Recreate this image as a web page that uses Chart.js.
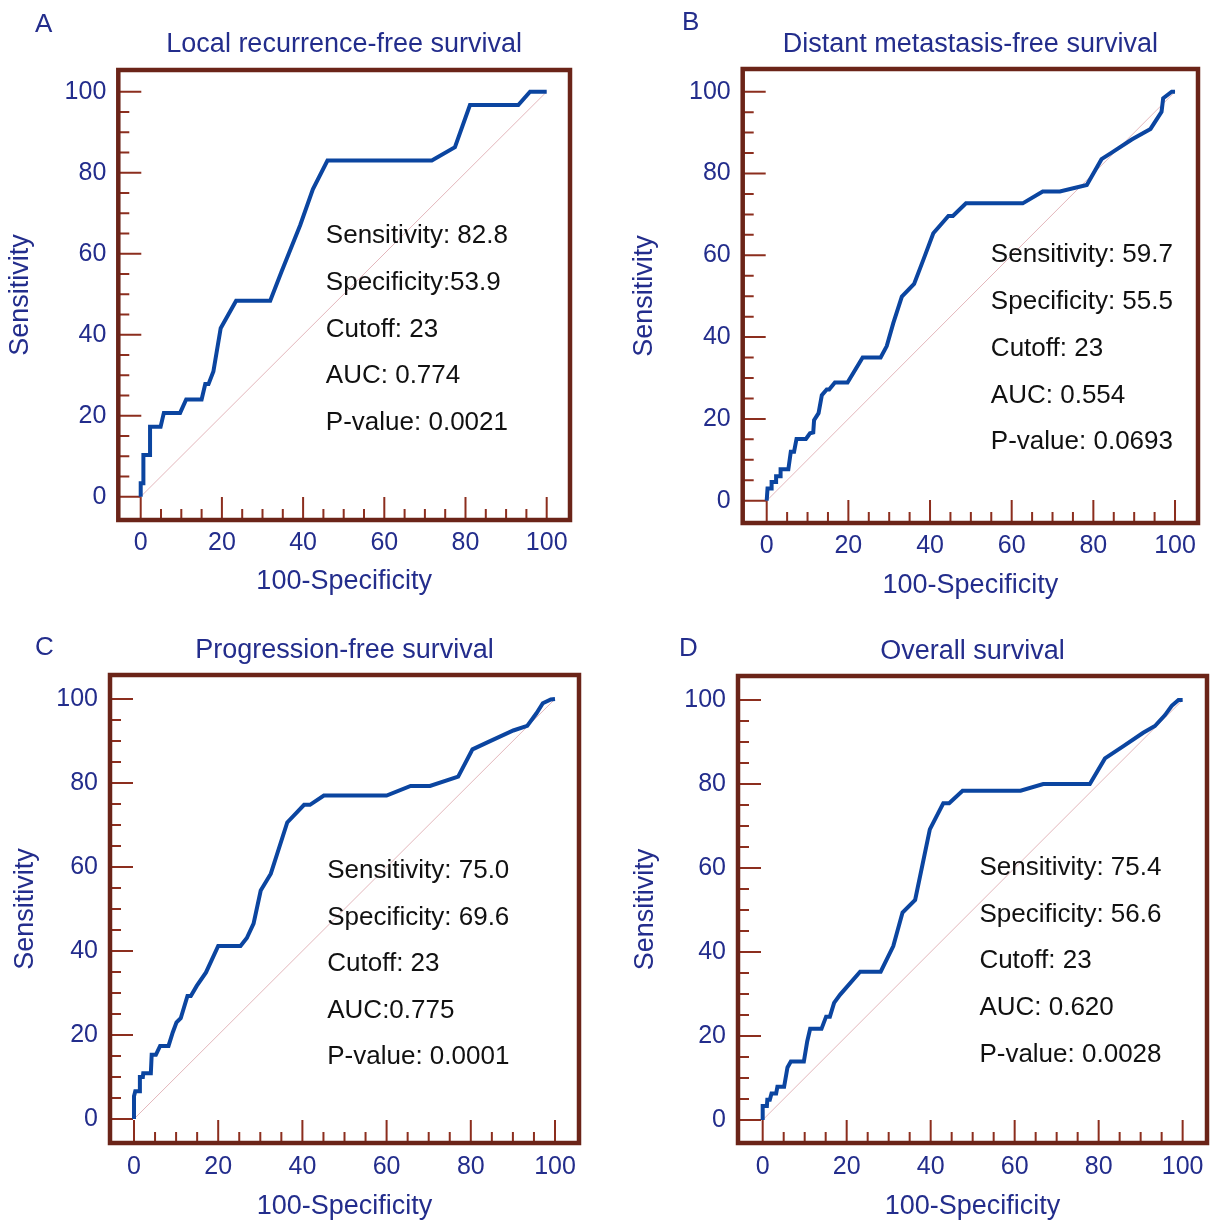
<!DOCTYPE html>
<html>
<head>
<meta charset="utf-8">
<title>Curvas ROC</title>
<script src="https://cdn.jsdelivr.net/npm/chart.js@4.4.0/dist/chart.umd.min.js"></script>
<style>
  body { margin: 0; background: #fff; }
  #pagina { position: relative; width: 1214px; height: 1223px; overflow: hidden; }
  canvas { position: absolute; }
  .letra { position: absolute; font-family: "Liberation Sans", Arial, sans-serif; font-size: 26px; line-height: 26px; color: #232d8c; }
</style>
</head>
<body>
<div id="pagina">
  <canvas id="graficaA" width="607" height="611" style="left:0px;top:0px"></canvas>
  <canvas id="graficaB" width="607" height="611" style="left:607px;top:0px"></canvas>
  <canvas id="graficaC" width="607" height="612" style="left:0px;top:611px"></canvas>
  <canvas id="graficaD" width="607" height="612" style="left:607px;top:611px"></canvas>
  <div class="letra" style="left:35px;top:10px">A</div>
  <div class="letra" style="left:682px;top:8px">B</div>
  <div class="letra" style="left:35px;top:633px">C</div>
  <div class="letra" style="left:679px;top:634px">D</div>
</div>
<script>
// datos
const ticksEje = [0, 20, 40, 60, 80, 100];
const diagonalX = [0, 100];
const diagonalY = [0, 100];

// A - local recurrence-free survival
const lrfsX = [0, 0, 0.66, 0.66, 2.3, 2.3, 4.9, 5.7, 9.7, 11.2, 15.0, 15.9, 16.7, 17.9, 19.7, 23.5, 31.9, 34.7, 39.3, 42.4, 46.0, 71.7, 77.4, 81.1, 93.0, 95.9, 100];
const lrfsY = [0, 3.3, 3.3, 10.3, 10.3, 17.3, 17.3, 20.7, 20.7, 24.0, 24.0, 27.8, 27.8, 30.9, 41.6, 48.4, 48.4, 55.6, 67.1, 75.9, 83.0, 83.0, 86.3, 96.7, 96.7, 100, 100];
const textosA = ["Sensitivity: 82.8", "Specificity:53.9", "Cutoff: 23", "AUC: 0.774", "P-value: 0.0021"];

// B - distant metastasis-free survival
const dmfsX = [0, 0.2, 1.2, 1.2, 2.3, 2.3, 3.4, 3.4, 5.3, 5.9, 6.7, 7.3, 9.6, 10.6, 11.4, 11.6, 12.7, 13.5, 14.7, 15.3, 16.7, 19.8, 23.5, 27.9, 29.4, 31.0, 33.1, 36.1, 38.4, 40.8, 44.5, 45.6, 48.8, 62.7, 67.6, 71.8, 78.4, 82.0, 84.5, 89.4, 94.0, 96.7, 97.1, 99.2, 100];
const dmfsY = [0, 3.0, 3.0, 4.6, 4.6, 6.0, 6.0, 7.7, 7.7, 12.0, 12.0, 15.1, 15.1, 16.5, 16.7, 19.7, 21.4, 25.8, 27.2, 27.2, 28.9, 28.9, 35.0, 35.0, 37.8, 43.4, 49.9, 53.0, 59.0, 65.4, 69.6, 69.6, 72.7, 72.7, 75.6, 75.6, 77.2, 83.5, 85.1, 88.3, 90.9, 95.1, 98.4, 100, 100];
const textosB = ["Sensitivity: 59.7", "Specificity: 55.5", "Cutoff: 23", "AUC: 0.554", "P-value: 0.0693"];

// C - progression-free survival
const pfsX = [0, 0, 0.3, 1.3, 1.4, 2.1, 2.2, 4.0, 4.2, 5.2, 6.2, 8.2, 9.2, 10.1, 11.1, 12.7, 13.5, 14.9, 17.1, 20.0, 25.3, 26.8, 28.4, 30.1, 32.5, 36.4, 40.4, 41.8, 45.1, 60.0, 65.7, 70.3, 77.0, 80.4, 84.2, 90.1, 93.4, 95.6, 97.1, 99.0, 100];
const pfsY = [0, 5.4, 6.6, 6.6, 10.0, 10.0, 10.9, 10.9, 15.3, 15.3, 17.4, 17.4, 20.6, 23.0, 24.0, 29.3, 29.3, 31.7, 34.9, 41.2, 41.2, 43.1, 46.5, 54.4, 58.4, 70.6, 74.8, 74.8, 77.0, 77.0, 79.3, 79.3, 81.5, 88.0, 89.8, 92.5, 93.6, 96.6, 99.0, 99.9, 100];
const textosC = ["Sensitivity: 75.0", "Specificity: 69.6", "Cutoff: 23", "AUC:0.775", "P-value: 0.0001"];

// D - overall survival
const osX = [0, 0, 1.0, 1.1, 1.7, 2.1, 3.2, 3.5, 5.1, 5.9, 6.7, 9.8, 10.6, 11.3, 14.0, 15.1, 16.0, 17.0, 18.4, 23.2, 28.1, 31.1, 33.3, 36.3, 39.8, 43.0, 44.4, 47.6, 61.4, 66.8, 77.9, 81.5, 85.9, 90.6, 93.4, 95.8, 97.4, 99.0, 100];
const osY = [0, 3.3, 3.3, 4.8, 4.8, 6.3, 6.3, 7.9, 7.9, 12.5, 13.9, 13.9, 18.7, 21.7, 21.7, 24.6, 24.6, 27.9, 29.8, 35.3, 35.3, 41.4, 49.4, 52.4, 69.2, 75.4, 75.4, 78.4, 78.4, 80.0, 80.0, 86.1, 89.0, 92.2, 93.8, 96.4, 98.6, 100, 100];
const textosD = ["Sensitivity: 75.4", "Specificity: 56.6", "Cutoff: 23", "AUC: 0.620", "P-value: 0.0028"];

const fuente = '"Liberation Sans", Arial, sans-serif';
const azulTexto = "#232d8c";
const azulCurva = "#0b45a0";
const colorMarco = "#6b2418";
const colorTicks = "#8c2e1e";
const altoLinea = 27 * 1.2;

const paneles = [
  { id: "graficaA", titulo: "Local recurrence-free survival", x: lrfsX, y: lrfsY, textos: textosA,
    caja: { left: 118.3, top: 70, right: 570, bottom: 520 }, rx: [-5.52, 105.74], ry: [-5.75, 105.36],
    tituloY: 45, ejeYx: 20.5, tickXy: 543, tituloXy: 582, texto: { x: 45.6, y: 64.4, paso: 11.55 } },
  { id: "graficaB", titulo: "Distant metastasis-free survival", x: dmfsX, y: dmfsY, textos: textosB,
    caja: { left: 135.7, top: 69, right: 591, bottom: 523 }, rx: [-5.88, 105.63], ry: [-5.45, 105.55],
    tituloY: 45, ejeYx: 38, tickXy: 546, tituloXy: 586, texto: { x: 54.9, y: 60.1, paso: 11.45 } },
  { id: "graficaC", titulo: "Progression-free survival", x: pfsX, y: pfsY, textos: textosC,
    caja: { left: 110, top: 64, right: 579, bottom: 532 }, rx: [-5.7, 105.7], ry: [-5.71, 105.71],
    tituloY: 40, ejeYx: 26, tickXy: 556, tituloXy: 596, texto: { x: 45.9, y: 59.0, paso: 11.05 } },
  { id: "graficaD", titulo: "Overall survival", x: osX, y: osY, textos: textosD,
    caja: { left: 131, top: 65, right: 600, bottom: 532 }, rx: [-5.88, 105.8], ry: [-5.48, 105.71],
    tituloY: 41, ejeYx: 39, tickXy: 556, tituloXy: 596, texto: { x: 51.6, y: 60.0, paso: 11.1 } },
];

// marco, ticks internos y textos del panel
const marco = {
  id: "marco",
  beforeDatasetsDraw(chart) {
    const { ctx, chartArea, scales } = chart;
    ctx.save();
    ctx.strokeStyle = colorTicks;
    ctx.lineWidth = 2;
    ctx.beginPath();
    for (let v = 0; v <= 100; v += 5) {
      const largo = v % 20 === 0 ? 23 : 11;
      const px = scales.x.getPixelForValue(v);
      ctx.moveTo(px, chartArea.bottom);
      ctx.lineTo(px, chartArea.bottom - largo);
      const py = scales.y.getPixelForValue(v);
      ctx.moveTo(chartArea.left, py);
      ctx.lineTo(chartArea.left + largo, py);
    }
    ctx.stroke();
    ctx.restore();
  },
  afterDraw(chart) {
    const { ctx, chartArea, scales } = chart;
    const panel = chart.options.plugins.marco;
    ctx.save();
    ctx.strokeStyle = colorMarco;
    ctx.lineWidth = 4.5;
    ctx.strokeRect(chartArea.left, chartArea.top, chartArea.right - chartArea.left, chartArea.bottom - chartArea.top);
    ctx.fillStyle = "#111";
    ctx.font = "26px " + fuente;
    ctx.textBaseline = "middle";
    panel.textos.forEach((t, i) => {
      const tx = scales.x.getPixelForValue(panel.texto.x);
      const ty = scales.y.getPixelForValue(panel.texto.y - i * panel.texto.paso);
      ctx.fillText(t, tx, ty);
    });
    ctx.restore();
  },
};

function crearGrafica(panel) {
  const canvas = document.getElementById(panel.id);
  const W = canvas.width;
  const H = canvas.height;
  const caja = panel.caja;
  const altoEjeX = panel.tituloXy + altoLinea / 2 - caja.bottom;
  const puntos = panel.x.map((v, i) => ({ x: v, y: panel.y[i] }));
  const diagonal = diagonalX.map((v, i) => ({ x: v, y: diagonalY[i] }));

  return new Chart(canvas, {
    type: "line",
    data: {
      datasets: [
        { data: puntos, borderColor: azulCurva, borderWidth: 4, pointRadius: 0, tension: 0, fill: false },
        { data: diagonal, borderColor: "#e3b6bb", borderWidth: 1, pointRadius: 0, tension: 0, fill: false },
      ],
    },
    options: {
      responsive: false,
      animation: false,
      devicePixelRatio: 1,
      layout: { padding: { left: 0, top: 0, right: W - caja.right, bottom: H - caja.bottom - altoEjeX } },
      plugins: {
        legend: { display: false },
        tooltip: { enabled: false },
        title: {
          display: true,
          fullSize: false,
          text: panel.titulo,
          color: azulTexto,
          font: { family: fuente, size: 27, weight: "normal" },
          padding: { top: panel.tituloY - altoLinea / 2, bottom: caja.top - (panel.tituloY + altoLinea / 2) },
        },
        marco: { textos: panel.textos, texto: panel.texto },
      },
      scales: {
        x: {
          type: "linear",
          min: panel.rx[0],
          max: panel.rx[1],
          afterBuildTicks: (s) => { s.ticks = ticksEje.map((v) => ({ value: v })); },
          afterFit: (s) => { s.height = altoEjeX; },
          grid: { display: false, drawTicks: false },
          border: { display: false },
          ticks: { color: azulTexto, font: { family: fuente, size: 25 }, padding: panel.tickXy - caja.bottom - 15, maxRotation: 0, autoSkip: false },
          title: { display: true, text: "100-Specificity", color: azulTexto, font: { family: fuente, size: 27 }, padding: { top: 0, bottom: 0 } },
        },
        y: {
          type: "linear",
          min: panel.ry[0],
          max: panel.ry[1],
          afterBuildTicks: (s) => { s.ticks = ticksEje.map((v) => ({ value: v })); },
          afterFit: (s) => { s.width = caja.left; },
          grid: { display: false, drawTicks: false },
          border: { display: false },
          ticks: { color: azulTexto, font: { family: fuente, size: 25 }, padding: 12, autoSkip: false },
          title: { display: true, text: "Sensitivity", color: azulTexto, font: { family: fuente, size: 27 }, padding: { top: panel.ejeYx - altoLinea / 2, bottom: 0 } },
        },
      },
    },
    plugins: [marco],
  });
}

paneles.forEach(crearGrafica);
</script>
</body>
</html>
